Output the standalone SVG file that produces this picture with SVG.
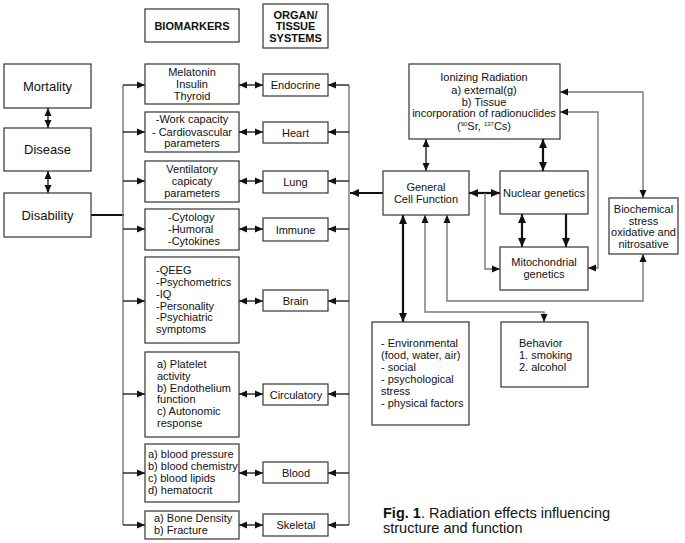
<svg xmlns="http://www.w3.org/2000/svg" width="685" height="543" viewBox="0 0 685 543">
<defs>
<style>
text{font-family:"Liberation Sans",Arial,Helvetica,sans-serif;font-size:11px;fill:#111}
.c{text-anchor:middle}
.big{font-size:13px}
.b{font-weight:bold}
.box{fill:#fff;stroke:#333;stroke-width:1.2}
.th{fill:none;stroke:#111;stroke-width:1.3}
.tk{fill:none;stroke:#111;stroke-width:2.2}
.gr{fill:none;stroke:#777;stroke-width:1.4}
.cap{font-size:14.5px}
</style>
<marker id="a" viewBox="0 0 8 8" markerUnits="userSpaceOnUse" markerWidth="8" markerHeight="8" refX="8" refY="4" orient="auto-start-reverse"><path d="M0,0.5 L8,4 L0,7.5 z" fill="#111"/></marker>
<marker id="ab" viewBox="0 0 9 9" markerUnits="userSpaceOnUse" markerWidth="9" markerHeight="9" refX="9" refY="4.5" orient="auto-start-reverse"><path d="M0,0.5 L9,4.5 L0,8.5 z" fill="#111"/></marker>
</defs>
<rect width="685" height="543" fill="#fff"/>

<g id="connectors">
<line class="th" x1="48" y1="108" x2="48" y2="128" marker-start="url(#a)" marker-end="url(#a)"/>
<line class="th" x1="48" y1="171" x2="48" y2="193" marker-start="url(#a)" marker-end="url(#a)"/>
<line class="tk" x1="91" y1="215" x2="124" y2="215"/>
<line class="gr" x1="123" y1="85" x2="123" y2="525"/>
<g class="th" marker-end="url(#a)">
<line x1="123" y1="85" x2="145" y2="85"/>
<line x1="123" y1="132" x2="145" y2="132"/>
<line x1="123" y1="181" x2="145" y2="181"/>
<line x1="123" y1="229" x2="145" y2="229"/>
<line x1="123" y1="301" x2="145" y2="301"/>
<line x1="123" y1="394" x2="145" y2="394"/>
<line x1="123" y1="473" x2="145" y2="473"/>
<line x1="123" y1="525" x2="145" y2="525"/>
</g>
<g class="th" marker-start="url(#a)" marker-end="url(#a)">
<line x1="239" y1="85" x2="263" y2="85"/>
<line x1="239" y1="132" x2="263" y2="132"/>
<line x1="239" y1="181" x2="263" y2="181"/>
<line x1="239" y1="229" x2="263" y2="229"/>
<line x1="239" y1="301" x2="263" y2="301"/>
<line x1="239" y1="394" x2="263" y2="394"/>
<line x1="239" y1="473" x2="263" y2="473"/>
<line x1="239" y1="525" x2="263" y2="525"/>
</g>
<line class="gr" x1="349" y1="85" x2="349" y2="525"/>
<g class="th" marker-end="url(#a)">
<line x1="349" y1="85" x2="328" y2="85"/>
<line x1="349" y1="132" x2="328" y2="132"/>
<line x1="349" y1="181" x2="328" y2="181"/>
<line x1="349" y1="229" x2="328" y2="229"/>
<line x1="349" y1="301" x2="328" y2="301"/>
<line x1="349" y1="394" x2="328" y2="394"/>
<line x1="349" y1="473" x2="328" y2="473"/>
<line x1="349" y1="525" x2="328" y2="525"/>
</g>
<line class="tk" x1="383" y1="193" x2="350" y2="193" marker-end="url(#ab)"/>
<line class="th" x1="426" y1="139" x2="426" y2="171" marker-start="url(#a)" marker-end="url(#a)"/>
<line class="tk" x1="543" y1="139" x2="543" y2="171" marker-start="url(#ab)" marker-end="url(#ab)"/>
<line class="tk" x1="469" y1="193" x2="500" y2="193" marker-start="url(#ab)" marker-end="url(#ab)"/>
<path class="gr" d="M485,193 V269 H500" marker-end="url(#a)"/>
<line class="tk" x1="522" y1="214" x2="522" y2="247" marker-start="url(#ab)" marker-end="url(#ab)"/>
<line class="tk" x1="566" y1="214" x2="566" y2="247" marker-end="url(#ab)"/>
<path class="gr" d="M560,112 H598 V268 H588" marker-start="url(#a)" marker-end="url(#a)"/>
<path class="gr" d="M560,92 H643 V198" marker-start="url(#a)" marker-end="url(#a)"/>
<path class="gr" d="M447,215 V301 H643 V254" marker-start="url(#a)" marker-end="url(#a)"/>
<line class="tk" x1="403" y1="215" x2="403" y2="322" marker-start="url(#ab)" marker-end="url(#ab)"/>
<path class="gr" d="M425,215 V312 H544 V322" marker-start="url(#a)" marker-end="url(#a)"/>
</g>

<g id="hdr-biomarkers"><rect class="box" x="145" y="9" width="94" height="33"/><text class="c b" x="192" y="29.5">BIOMARKERS</text></g>
<g id="hdr-organ"><rect class="box" x="263" y="4" width="65" height="44"/><text class="c b" x="295.5" y="19">ORGAN/</text><text class="c b" x="295.5" y="30">TISSUE</text><text class="c b" x="295.5" y="42">SYSTEMS</text></g>

<g id="mortality"><rect class="box" x="4" y="64" width="87" height="44"/><text class="c big" x="47.5" y="90.5">Mortality</text></g>
<g id="disease"><rect class="box" x="4" y="128" width="87" height="43"/><text class="c big" x="47.5" y="154">Disease</text></g>
<g id="disability"><rect class="box" x="4" y="193" width="87" height="44"/><text class="c big" x="47.5" y="219.5">Disability</text></g>

<g id="bm-endocrine"><rect class="box" x="145" y="64" width="94" height="40"/><text class="c" x="192" y="76">Melatonin</text><text class="c" x="192" y="87.5">Insulin</text><text class="c" x="192" y="99.5">Thyroid</text></g>
<g id="bm-heart"><rect class="box" x="145" y="112" width="94" height="40"/><text class="c" x="192" y="123">-Work capacity</text><text class="c" x="192" y="135.5">- Cardiovascular</text><text class="c" x="192" y="147">parameters</text></g>
<g id="bm-lung"><rect class="box" x="145" y="161" width="94" height="41"/><text class="c" x="192" y="173">Ventilatory</text><text class="c" x="192" y="185">capicaty</text><text class="c" x="192" y="196.5">parameters</text></g>
<g id="bm-immune"><rect class="box" x="145" y="209" width="94" height="41"/><text x="168" y="221">-Cytology</text><text x="168" y="233">-Humoral</text><text x="168" y="245">-Cytokines</text></g>
<g id="bm-brain"><rect class="box" x="145" y="257" width="94" height="86"/><text x="156" y="274">-QEEG</text><text x="156" y="286">-Psychometrics</text><text x="156" y="297.5">-IQ</text><text x="156" y="309.5">-Personality</text><text x="156" y="321">-Psychiatric</text><text x="156" y="333">symptoms</text></g>
<g id="bm-circulatory"><rect class="box" x="145" y="352" width="94" height="85"/><text x="157" y="368">a) Platelet</text><text x="157" y="380">activity</text><text x="157" y="391.5">b) Endothelium</text><text x="157" y="403">function</text><text x="157" y="415">c) Autonomic</text><text x="157" y="427">response</text></g>
<g id="bm-blood"><rect class="box" x="145" y="444" width="94" height="58"/><text x="148" y="458">a) blood pressure</text><text x="148" y="470">b) blood chemistry</text><text x="148" y="482">c) blood lipids</text><text x="148" y="494">d) hematocrit</text></g>
<g id="bm-skeletal"><rect class="box" x="145" y="511" width="94" height="28"/><text x="154" y="522">a) Bone Density</text><text x="154" y="534">b) Fracture</text></g>

<g id="endocrine"><rect class="box" x="263" y="74" width="65" height="22"/><text class="c" x="295.5" y="89">Endocrine</text></g>
<g id="heart"><rect class="box" x="263" y="122" width="65" height="21"/><text class="c" x="295.5" y="136.5">Heart</text></g>
<g id="lung"><rect class="box" x="263" y="171" width="65" height="22"/><text class="c" x="295.5" y="186">Lung</text></g>
<g id="immune"><rect class="box" x="263" y="218" width="65" height="23"/><text class="c" x="295.5" y="233.5">Immune</text></g>
<g id="brain"><rect class="box" x="263" y="290" width="65" height="21"/><text class="c" x="295.5" y="304.5">Brain</text></g>
<g id="circulatory"><rect class="box" x="263" y="384" width="65" height="21"/><text class="c" x="296" y="398.5">Circulatory</text></g>
<g id="blood"><rect class="box" x="263" y="462" width="65" height="21"/><text class="c" x="296" y="476.5">Blood</text></g>
<g id="skeletal"><rect class="box" x="263" y="514" width="65" height="22"/><text class="c" x="296" y="529">Skeletal</text></g>

<g id="ionizing"><rect class="box" x="409" y="64" width="151" height="75"/>
<text class="c" x="484" y="81">Ionizing Radiation</text>
<text class="c" x="484" y="93.5">a) external(g)</text>
<text class="c" x="484" y="105.5">b) Tissue</text>
<text class="c" x="484" y="117">incorporation of radionuclides</text>
<text class="c" x="484" y="130">(<tspan font-size="6" dy="-4">90</tspan><tspan dy="4">Sr, </tspan><tspan font-size="6" dy="-4">137</tspan><tspan dy="4">Cs)</tspan></text></g>
<g id="cell-function"><rect class="box" x="383" y="171" width="86" height="44"/><text class="c" x="426" y="191">General</text><text class="c" x="426" y="203">Cell Function</text></g>
<g id="nuclear"><rect class="box" x="500" y="171" width="88" height="43"/><text class="c" x="544" y="197">Nuclear genetics</text></g>
<g id="mito"><rect class="box" x="500" y="247" width="88" height="43"/><text class="c" x="544" y="266">Mitochondrial</text><text class="c" x="544" y="278">genetics</text></g>
<g id="biochem"><rect class="box" x="609" y="198" width="69" height="56"/><text class="c" x="643.5" y="213">Biochemical</text><text class="c" x="643.5" y="225">stress</text><text class="c" x="643.5" y="236">oxidative and</text><text class="c" x="643.5" y="247.5">nitrosative</text></g>
<g id="environmental"><rect class="box" x="372" y="322" width="97" height="103"/><text x="381" y="347">- Environmental</text><text x="381" y="359">(food, water, air)</text><text x="381" y="371">- social</text><text x="381" y="383">- psychological</text><text x="381" y="394.5">stress</text><text x="381" y="406.5">- physical factors</text></g>
<g id="behavior"><rect class="box" x="501" y="322" width="87" height="65"/><text x="519" y="347">Behavior</text><text x="519" y="359">1. smoking</text><text x="519" y="371">2. alcohol</text></g>

<g id="caption"><text class="cap" x="383" y="518"><tspan font-weight="bold">Fig.  1</tspan>. Radiation effects influencing</text><text class="cap" x="383" y="533">structure and function</text></g>
</svg>
